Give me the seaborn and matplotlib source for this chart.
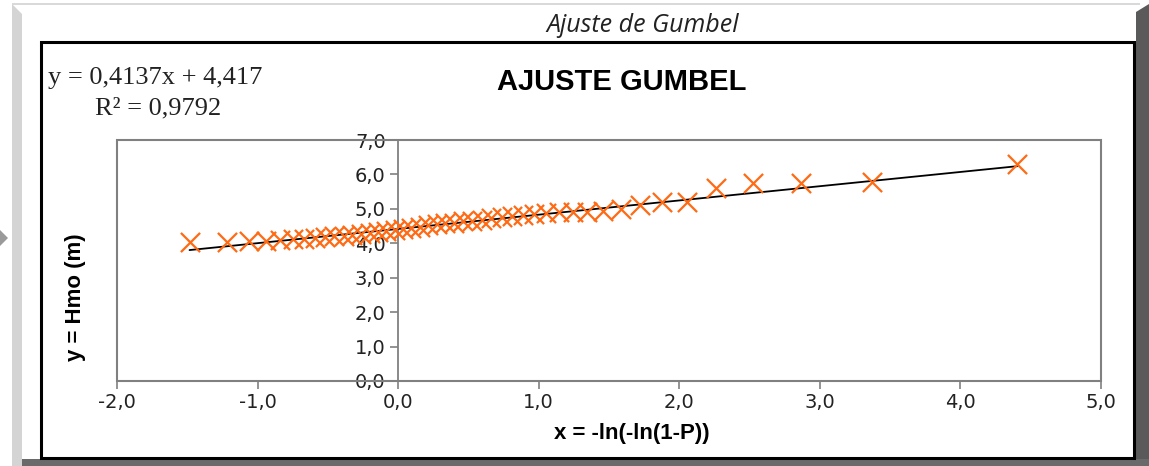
import matplotlib
matplotlib.use("Agg")
import matplotlib.pyplot as plt
import seaborn as sns
import pandas as pd
from matplotlib.patches import Rectangle, Polygon
from matplotlib.ticker import FuncFormatter

# ---------------- data ----------------
x_gumbel = [4.405, 3.369, 2.863, 2.522, 2.262, 2.052, 1.874, 1.720, 1.583, 1.460,
            1.347, 1.243, 1.146, 1.055, 0.969, 0.888, 0.810, 0.736, 0.664, 0.595,
            0.527, 0.462, 0.398, 0.335, 0.274, 0.213, 0.153, 0.094, 0.035, -0.024,
            -0.083, -0.142, -0.202, -0.263, -0.325, -0.388, -0.453, -0.521, -0.592, -0.668,
            -0.749, -0.839, -0.941, -1.062, -1.220, -1.484]
y_hmo = [6.30, 5.78, 5.76, 5.76, 5.60, 5.21, 5.21, 5.12, 5.00, 4.93,
         4.92, 4.92, 4.90, 4.88, 4.85, 4.82, 4.80, 4.75, 4.72, 4.68,
         4.66, 4.64, 4.60, 4.58, 4.55, 4.52, 4.48, 4.45, 4.42, 4.38,
         4.35, 4.33, 4.30, 4.27, 4.25, 4.22, 4.20, 4.17, 4.15, 4.13,
         4.11, 4.09, 4.07, 4.07, 4.05, 4.05]
slope = 0.4137
intercept = 4.417
r2 = 0.9792
x_ticks = [-2.0, -1.0, 0.0, 1.0, 2.0, 3.0, 4.0, 5.0]
y_ticks = [0.0, 1.0, 2.0, 3.0, 4.0, 5.0, 6.0, 7.0]

df = pd.DataFrame({"x": x_gumbel, "y": y_hmo})
df_fit = pd.DataFrame({"x": sorted(x_gumbel)})
df_fit["y"] = slope * df_fit["x"] + intercept

# ---------------- style ----------------
sns.set_theme(style="white")
plt.rcParams["font.family"] = ["Liberation Sans", "DejaVu Sans"]

W, H = 1149, 466
fig = plt.figure(figsize=(W / 100, H / 100), dpi=100)
fig.patch.set_facecolor("white")


def fx(px):
    return px / W


def fy(py):
    return 1 - py / H


tf = fig.transFigure
# outer window decorations
fig.patches.append(Polygon([(fx(12), fy(4)), (fx(22), fy(14)), (fx(22), fy(466)), (fx(12), fy(466))],
                           closed=True, transform=tf, fc="#d4d4d4", ec="none"))
fig.patches.append(Rectangle((fx(12), fy(5)), fx(1140) - fx(12), fy(3) - fy(5), transform=tf,
                             fc="#d9d9d9", ec="none"))
fig.patches.append(Polygon([(fx(1136), fy(12)), (fx(1149), fy(4)), (fx(1149), fy(466)), (fx(1136), fy(466))],
                           closed=True, transform=tf, fc="#5a5a5a", ec="none"))
fig.patches.append(Rectangle((fx(22), fy(466)), fx(1149) - fx(22), fy(459) - fy(466), transform=tf,
                             fc="#6a6a6a", ec="none"))
fig.patches.append(Polygon([(fx(0), fy(230)), (fx(8), fy(238)), (fx(0), fy(246))],
                           closed=True, transform=tf, fc="#9a9a9a", ec="none"))
# inner chart border
fig.patches.append(Rectangle((fx(41), fy(458)), fx(1134) - fx(41), fy(42) - fy(458), transform=tf,
                             fill=False, ec="black", lw=2.2))

ax = fig.add_axes([fx(117), fy(381), fx(1101) - fx(117), fy(140) - fy(381)])
ax.set_facecolor("white")

sns.lineplot(data=df_fit, x="x", y="y", ax=ax, color="black", lw=1.3, zorder=3)
sns.scatterplot(data=df, x="x", y="y", ax=ax, marker="x", s=190, color="#FF6A13",
                linewidth=1.6, zorder=4)

ax.set_xlim(-2, 5)
ax.set_ylim(0, 7)
ax.set_xticks(x_ticks)
ax.set_yticks(y_ticks)
fmt = FuncFormatter(lambda v, p: f"{v:.1f}".replace(".", ","))
ax.xaxis.set_major_formatter(fmt)
ax.yaxis.set_major_formatter(fmt)

ax.spines["left"].set_position(("data", 0))
ax.spines["top"].set_visible(False)
ax.spines["right"].set_visible(False)
for s in ["left", "bottom"]:
    ax.spines[s].set_color("#808080")
    ax.spines[s].set_linewidth(1.3)
ax.add_patch(Rectangle((0, 0), 1, 1, transform=ax.transAxes, fill=False, ec="#808080",
                       lw=1.5, clip_on=False, zorder=1))
ax.tick_params(axis="both", direction="out", length=6, width=1.2, color="#808080",
               labelsize=14, labelcolor="#222222", pad=3)
ax.tick_params(axis="both", left=True, bottom=True)
for lab in ax.get_xticklabels() + ax.get_yticklabels():
    lab.set_family(["DejaVu Sans"])
ax.set_xlabel("")
ax.set_ylabel("")
ax.grid(False)

# texts
fig.text(fx(643), fy(25), "Ajuste de Gumbel", ha="center", va="center", fontsize=18,
         style="italic", family=["Open Sans", "DejaVu Sans"], color="#222222")
fig.text(fx(622), fy(82), "AJUSTE GUMBEL", ha="center", va="center", fontsize=21,
         fontweight="bold", color="black")
fig.text(fx(48), fy(78), f"y = {slope:.4f}x + {intercept:.3f}".replace(".", ","), ha="left",
         va="center", fontsize=19, family=["Liberation Serif", "DejaVu Serif"], color="#222222")
fig.text(fx(95), fy(108), f"R² = {r2:.4f}".replace(".", ","), ha="left", va="center",
         fontsize=19, family=["Liberation Serif", "DejaVu Serif"], color="#222222")
fig.text(fx(76), fy(297), "y = Hmo (m)", rotation=90, ha="center", va="center", fontsize=16,
         fontweight="bold", color="black")
fig.text(fx(632), fy(434), "x = -ln(-ln(1-P))", ha="center", va="center", fontsize=16,
         fontweight="bold", color="black")

fig.savefig("out.png", dpi=100)
